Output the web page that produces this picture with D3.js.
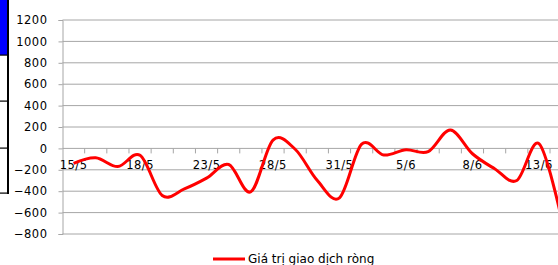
<!DOCTYPE html>
<html>
<head>
<meta charset="utf-8">
<script src="https://cdn.jsdelivr.net/npm/d3@7"></script>
<style>
  body { margin: 0; background: #fff; overflow: hidden; }
  svg { display: block; font-family: "DejaVu Sans", Verdana, sans-serif; }
</style>
</head>
<body>
<svg id="chart" width="558" height="265"></svg>
<script>
// trading days (every 3rd one is labelled on the axis)
const dates = ["15/5","16/5","17/5","18/5","21/5","22/5","23/5","24/5","25/5","28/5","29/5","30/5",
  "31/5","1/6","4/6","5/6","6/6","7/6","8/6","11/6","12/6","13/6","14/6"];
const netValues = [-140,-88,-170,-65,-440,-378,-278,-150,-405,78,-8,-300,
  -462,40,-62,-12,-30,172,-50,-190,-300,44,-640];
const yTicks = [1200,1000,800,600,400,200,0,-200,-400,-600,-800];
const legendLabel = "Giá trị giao dịch ròng";

const svg = d3.select("#chart");
const left = 62.5, step = 22.16;

// the cropped table edge on the far left
const side = svg.append("g");
side.append("rect").attr("x", 0).attr("y", 0).attr("width", 7.5).attr("height", 55).attr("fill", "#0000ff");
side.append("rect").attr("x", 7).attr("y", 0).attr("width", 2).attr("height", 194).attr("fill", "#000");
[55, 101, 148, 193].forEach(yy => {
  side.append("rect").attr("x", 0).attr("y", yy - 0.5).attr("width", 8).attr("height", 1.2).attr("fill", "#000");
});

const x = d3.scaleBand()
  .domain(dates)
  .range([left, left + step * dates.length]);

const y = d3.scaleLinear()
  .domain([-800, 1200])
  .range([234, 20]);

// gridlines
svg.append("g")
  .selectAll("line")
  .data(yTicks)
  .join("line")
  .attr("x1", left)
  .attr("x2", 558)
  .attr("y1", d => y(d))
  .attr("y2", d => y(d))
  .attr("stroke", "#a6a6a6")
  .attr("stroke-width", 1);

// y axis
const yAxis = svg.append("g")
  .attr("transform", `translate(${left},0)`)
  .call(d3.axisLeft(y).tickValues(yTicks).tickFormat(d3.format("d")).tickSize(4).tickPadding(11));
yAxis.select(".domain").attr("stroke", "#a6a6a6");
yAxis.selectAll(".tick line").attr("stroke", "#a6a6a6");
yAxis.selectAll("text")
  .attr("font-size", 11.5)
  .attr("letter-spacing", "0.5px")
  .attr("fill", "#000")
  .attr("font-family", "DejaVu Sans, Verdana, sans-serif");

// x axis on the zero line
const xAxis = svg.append("g")
  .attr("transform", `translate(0,${y(0)})`)
  .call(d3.axisBottom(x)
    .tickSize(0)
    .tickPadding(12)
    .tickFormat((d, i) => i % 3 === 0 ? d : ""));
xAxis.select(".domain").remove();
xAxis.selectAll("text")
  .attr("font-size", 11.5)
  .attr("letter-spacing", "0.5px")
  .attr("fill", "#000")
  .attr("font-family", "DejaVu Sans, Verdana, sans-serif");

// tick marks between categories
xAxis.selectAll(".cat-tick")
  .data(dates)
  .join("line")
  .attr("class", "cat-tick")
  .attr("x1", d => x(d) + x.bandwidth())
  .attr("x2", d => x(d) + x.bandwidth())
  .attr("y1", 0)
  .attr("y2", 5)
  .attr("stroke", "#a6a6a6");

// series line
svg.append("path")
  .datum(netValues)
  .attr("fill", "none")
  .attr("stroke", "#ff0000")
  .attr("stroke-width", 3)
  .attr("stroke-linejoin", "round")
  .attr("d", d3.line()
    .x((d, i) => x(dates[i]) + x.bandwidth() / 2)
    .y(d => y(d))
    .curve(d3.curveCardinal.tension(0)));

// legend
const legend = svg.append("g");
legend.append("line")
  .attr("x1", 213).attr("x2", 245)
  .attr("y1", 259).attr("y2", 259)
  .attr("stroke", "#ff0000")
  .attr("stroke-width", 3);
legend.append("text")
  .attr("x", 248)
  .attr("y", 263)
  .attr("font-size", 12)
  .attr("fill", "#000")
  .text(legendLabel);
</script>
</body>
</html>
